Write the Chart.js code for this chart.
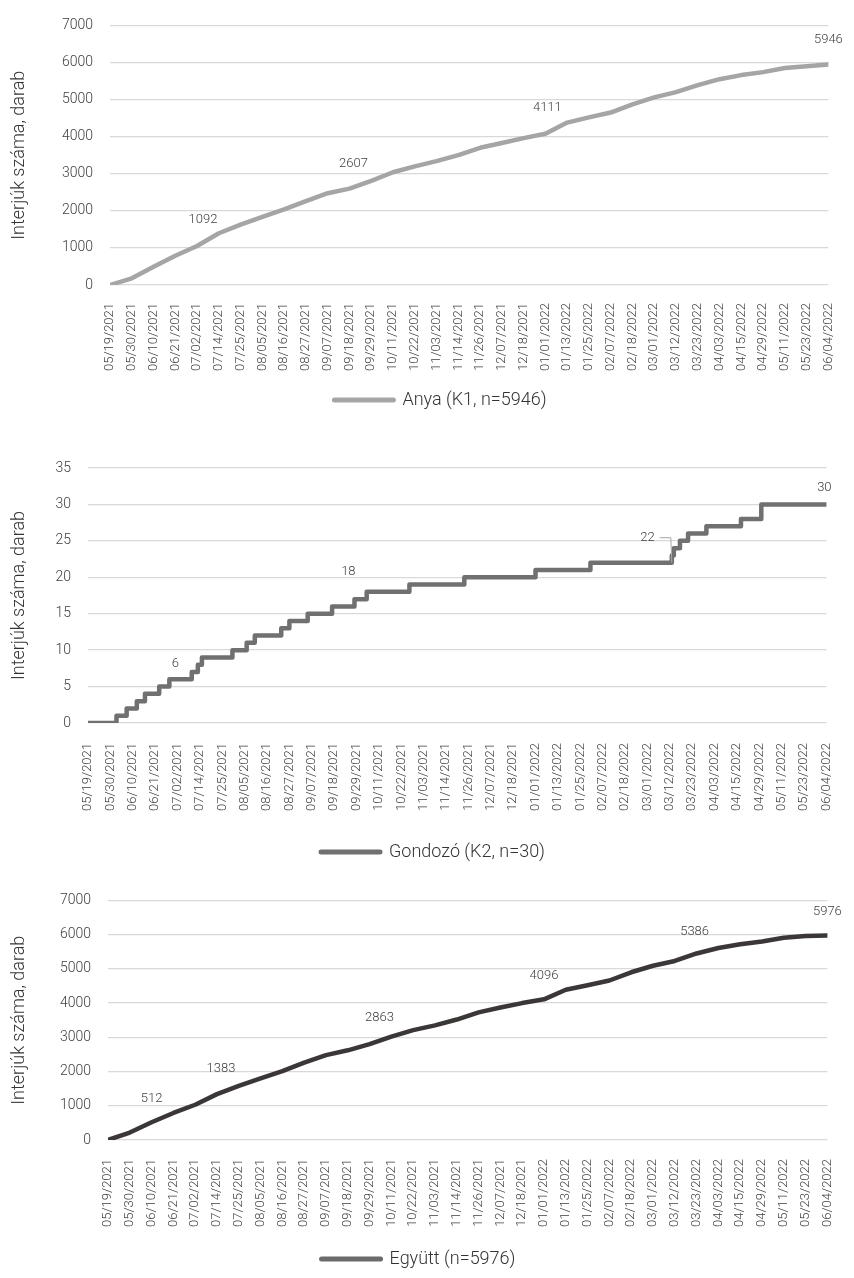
<!DOCTYPE html>
<html><head><meta charset="utf-8">
<script src="https://cdn.jsdelivr.net/npm/chart.js@4.4.1/dist/chart.umd.min.js"></script>
<style>
html,body{margin:0;padding:0;background:#fff;}
.wrap{position:absolute;left:0;width:854px;}
</style></head><body>
<div class="wrap" style="top:0;height:425px"><canvas id="c1"></canvas></div>
<div class="wrap" style="top:425px;height:450px"><canvas id="c2"></canvas></div>
<div class="wrap" style="top:875px;height:403px"><canvas id="c3"></canvas></div>
<script>
// ---- data ----
const tickLabels = ['05/19/2021','05/30/2021','06/10/2021','06/21/2021','07/02/2021','07/14/2021','07/25/2021','08/05/2021','08/16/2021','08/27/2021','09/07/2021','09/18/2021','09/29/2021','10/11/2021','10/22/2021','11/03/2021','11/14/2021','11/26/2021','12/07/2021','12/18/2021','01/01/2022','01/13/2022','01/25/2022','02/07/2022','02/18/2022','03/01/2022','03/12/2022','03/23/2022','04/03/2022','04/15/2022','04/29/2022','05/11/2022','05/23/2022','06/04/2022'];
const ROWS_PER_TICK = 11; // one date label every 11 data rows
const anyaValues   = [0,180,490,790,1050,1395,1630,1840,2040,2260,2475,2600,2810,3040,3200,3340,3500,3700,3830,3960,4080,4380,4520,4650,4870,5060,5200,5390,5550,5660,5740,5850,5900,5946];
const egyuttValues = [0,218,520,790,1030,1340,1580,1800,2010,2260,2480,2620,2800,3020,3210,3350,3520,3730,3870,4000,4110,4390,4520,4660,4900,5090,5230,5450,5610,5720,5800,5910,5960,5976];
const gondozoRows   = [0,14,19,24,28,35,40,51,54,56,71,78,82,95,99,108,120,131,137,158,185,220,247,287,288,291,295,304,321,331,363];
const gondozoValues = [0,1,2,3,4,5,6,7,8,9,10,11,12,13,14,15,16,17,18,19,20,21,22,23,24,25,26,27,28,30,30];
const anyaLabelRows = [47,123,221,363];       const anyaLabelValues = [1092,2607,4111,5946];
const gondozoLabelRows = [43,128,275,362];    const gondozoLabelValues = [6,18,22,30];
const egyuttLabelRows = [22,57,137,220,296,363]; const egyuttLabelValues = [512,1383,2863,4096,5386,5976];
const seriesNames = ['Anya (K1, n=5946)','Gondozó (K2, n=30)','Együtt (n=5976)'];
const axisTitle = 'Interjúk száma, darab';

// ---- helpers ----
const FONT = 'Roboto';
const valueLabels = {
  id: 'valueLabels',
  afterDatasetsDraw(chart, args, o) {
    const {ctx, scales: {x, y}} = chart;
    ctx.save();
    ctx.font = '300 13px ' + FONT;
    ctx.fillStyle = '#404040';
    ctx.textAlign = 'center';
    ctx.textBaseline = 'middle';
    o.rows.forEach((r, i) => {
      const v = o.values[i];
      const px = x.getPixelForValue(r);
      const py = y.getPixelForValue(v) - o.offsets[i];
      ctx.fillText(String(v), px, py);
      if (o.leader && o.leader.index === i) {
        const w = ctx.measureText(String(v)).width;
        const tx = x.getPixelForValue(o.leader.row);
        const ty = y.getPixelForValue(v);
        ctx.strokeStyle = '#a6a6a6';
        ctx.lineWidth = 1;
        ctx.beginPath();
        ctx.moveTo(px + w / 2 + 5, py);
        ctx.lineTo(tx - 1, py);
        ctx.lineTo(tx, ty);
        ctx.stroke();
      }
    });
    ctx.restore();
  }
};
const legendShift = {
  id: 'legendShift',
  afterLayout(chart, args, o) {
    if (chart.legend && o.dx) { chart.legend.left += o.dx; chart.legend.right += o.dx; }
  }
};

function makeChart(id, cfg) {
  return new Chart(document.getElementById(id), {
    type: 'line',
    data: { datasets: [{
      label: cfg.name,
      data: cfg.points,
      borderColor: cfg.color,
      borderWidth: 4.5,
      borderCapStyle: 'round',
      borderJoinStyle: 'round',
      pointRadius: 0,
      tension: 0,
      stepped: cfg.stepped || false,
      fill: false
    }]},
    plugins: [valueLabels, legendShift],
    options: {
      responsive: true, maintainAspectRatio: false, animation: false, devicePixelRatio: 1,
      parsing: false,
      layout: { padding: cfg.padding },
      scales: {
        x: {
          type: 'linear', min: 0, max: (tickLabels.length - 1) * ROWS_PER_TICK,
          afterBuildTicks: s => { s.ticks = tickLabels.map((_, i) => ({ value: i * ROWS_PER_TICK })); },
          afterFit: s => { s.height = cfg.xHeight; },
          grid: { display: false },
          border: { display: false },
          ticks: {
            autoSkip: false, minRotation: 90, maxRotation: 90, padding: cfg.xPad,
            color: '#404040', font: { family: FONT, size: 13, weight: 300 },
            callback: v => tickLabels[Math.round(v / ROWS_PER_TICK)]
          }
        },
        y: {
          min: 0, max: cfg.yMax,
          afterBuildTicks: s => { const t = []; for (let v = 0; v <= cfg.yMax; v += cfg.yStep) t.push({ value: v }); s.ticks = t; },
          afterFit: s => { s.width = cfg.yWidth; },
          grid: { color: '#d9d9d9', lineWidth: 1.3, drawTicks: false },
          border: { display: false },
          ticks: { padding: 17, color: '#404040', font: { family: FONT, size: 14, weight: 300 },
                   callback: v => String(v) },
          title: { display: true, text: axisTitle, color: '#333333', padding: { top: 9, bottom: 0 },
                   font: { family: FONT, size: 18, weight: 300 } }
        }
      },
      plugins: {
        tooltip: { enabled: false },
        legend: {
          position: 'bottom',
          labels: {
            usePointStyle: true, pointStyle: 'line', pointStyleWidth: 59,
            padding: cfg.legendPad, color: '#333333',
            font: { family: FONT, size: 18, weight: 300 },
            generateLabels: ch => {
              const items = Chart.defaults.plugins.legend.labels.generateLabels(ch);
              items.forEach(it => { it.strokeStyle = cfg.legendColor || cfg.color; it.lineWidth = 5; it.lineCap = 'round'; });
              return items;
            }
          }
        },
        legendShift: { dx: cfg.legendDx },
        valueLabels: cfg.labels
      }
    }
  });
}

const tickPoints = vals => vals.map((v, i) => ({ x: i * ROWS_PER_TICK, y: v }));

makeChart('c1', {
  name: seriesNames[0], points: tickPoints(anyaValues), color: '#a5a5a5',
  yMax: 7000, yStep: 1000, yWidth: 110, xHeight: 96, xPad: 10, legendPad: 10, legendDx: 22,
  padding: { top: 19, right: 17, bottom: 6, left: 0 },
  labels: { rows: anyaLabelRows, values: anyaLabelValues, offsets: anyaLabelValues.map(() => 25) }
});
makeChart('c2', {
  name: seriesNames[1], points: gondozoRows.map((r, i) => ({ x: r, y: gondozoValues[i] })), color: '#707070',
  stepped: 'before',
  yMax: 35, yStep: 5, yWidth: 88, xHeight: 110, xPad: 12, legendPad: 10, legendDx: 15,
  padding: { top: 43, right: 18, bottom: 4, left: 0 },
  labels: { rows: gondozoLabelRows, values: gondozoLabelValues, offsets: [16, 20, 25, 17], leader: { index: 2, row: 287 } }
});
makeChart('c3', {
  name: seriesNames[2], points: tickPoints(egyuttValues), color: '#3b3737', legendColor: '#6b6b6b',
  yMax: 7000, yStep: 1000, yWidth: 108, xHeight: 106, xPad: 11, legendPad: 4, legendDx: 0,
  padding: { top: 14, right: 17, bottom: 0, left: 0 },
  labels: { rows: egyuttLabelRows, values: egyuttLabelValues, offsets: egyuttLabelValues.map(() => 24) }
});
</script>
</body></html>
